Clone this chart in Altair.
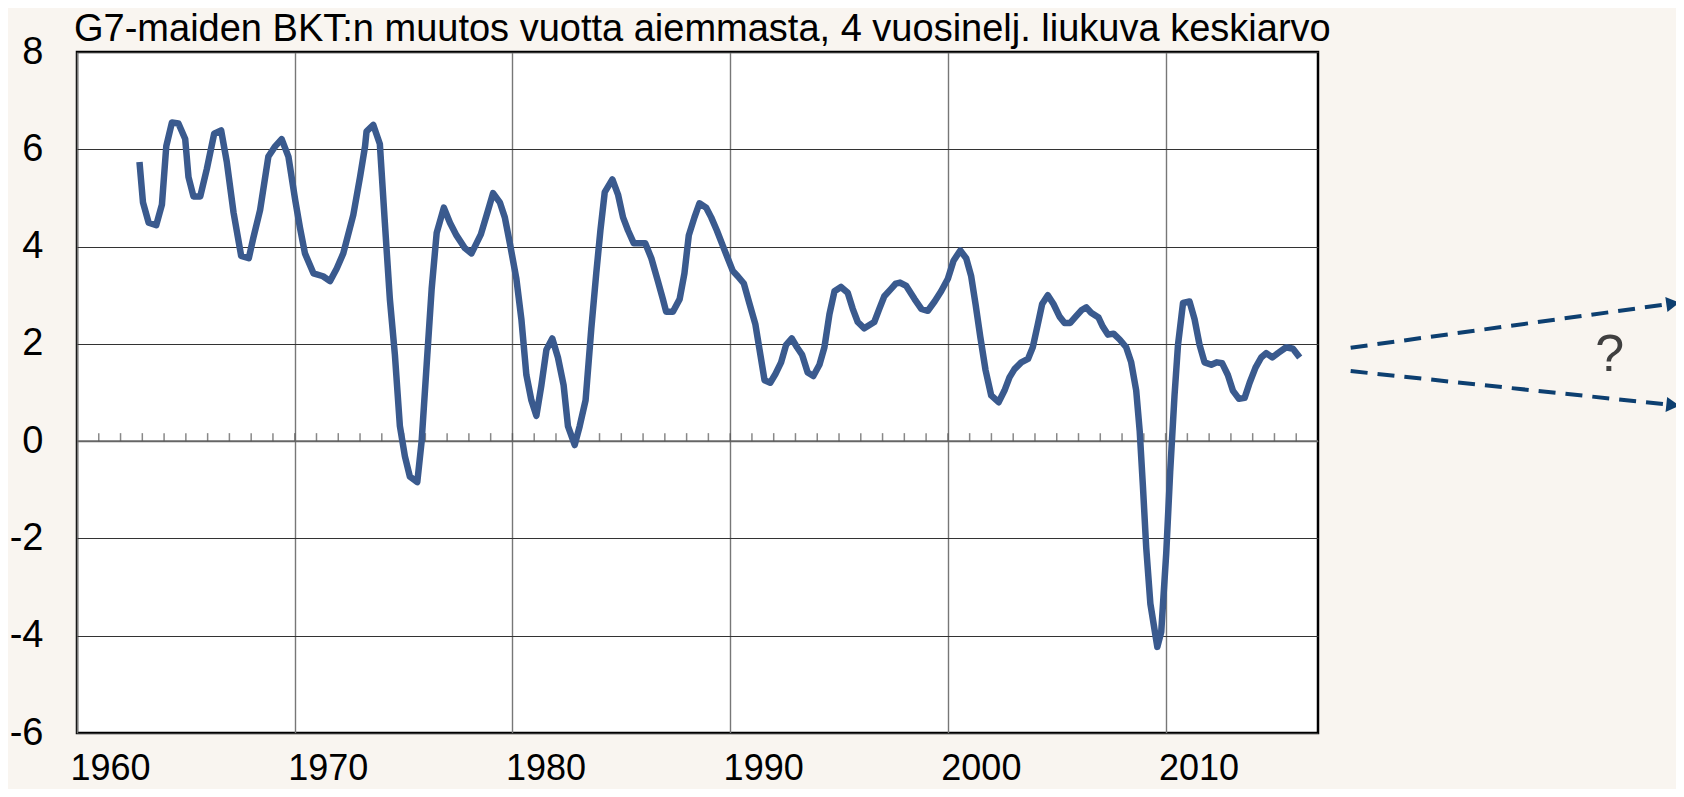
import altair as alt
import pandas as pd

# ---- data ----
years = [
    1962.87, 1963.03, 1963.29, 1963.64, 1963.90, 1964.10, 1964.36, 1964.66, 1964.97, 1965.12,
    1965.35, 1965.66, 1965.96, 1966.30, 1966.62, 1966.88, 1967.19, 1967.54, 1967.89, 1968.10,
    1968.41, 1968.79, 1969.10, 1969.40, 1969.71, 1970.02, 1970.24, 1970.47, 1970.86, 1971.30,
    1971.62, 1971.93, 1972.23, 1972.69, 1973.00, 1973.23, 1973.30, 1973.61, 1973.91, 1974.14,
    1974.37, 1974.60, 1974.83, 1975.06, 1975.29, 1975.63, 1975.83, 1976.06, 1976.29, 1976.52,
    1976.85, 1977.13, 1977.43, 1977.81, 1978.12, 1978.55, 1978.85, 1979.11, 1979.42, 1979.65,
    1979.88, 1980.18, 1980.41, 1980.64, 1980.87, 1981.10, 1981.33, 1981.56, 1981.83, 1982.09,
    1982.35, 1982.55, 1982.86, 1983.09, 1983.36, 1983.62, 1983.85, 1984.04, 1984.24, 1984.59,
    1984.85, 1985.08, 1985.31, 1985.57, 1985.84, 1986.10, 1986.38, 1986.68, 1986.91, 1987.06,
    1987.37, 1987.68, 1987.90, 1988.10, 1988.36, 1988.59, 1988.90, 1989.13, 1989.39, 1989.66,
    1989.89, 1990.12, 1990.35, 1990.63, 1990.89, 1991.16, 1991.35, 1991.58, 1991.84, 1992.08,
    1992.34, 1992.57, 1992.83, 1993.07, 1993.30, 1993.56, 1993.82, 1994.10, 1994.33, 1994.56,
    1994.79, 1995.09, 1995.40, 1995.63, 1995.86, 1996.16, 1996.62, 1996.85, 1997.08, 1997.39,
    1997.61, 1997.80, 1998.09, 1998.47, 1998.78, 1999.08, 1999.39, 1999.69, 2000.00, 2000.26,
    2000.57, 2000.84, 2001.07, 2001.27, 2001.49, 2001.73, 2001.99, 2002.33, 2002.60, 2002.83,
    2003.06, 2003.37, 2003.68, 2003.90, 2004.13, 2004.33, 2004.59, 2004.85, 2005.13, 2005.36,
    2005.62, 2005.87, 2006.13, 2006.36, 2006.58, 2006.92, 2007.12, 2007.35, 2007.61, 2007.89,
    2008.19, 2008.42, 2008.65, 2008.81, 2008.96, 2009.11, 2009.30, 2009.62, 2009.80, 2010.03,
    2010.21, 2010.41, 2010.57, 2010.80, 2011.10, 2011.33, 2011.56, 2011.79, 2012.10, 2012.36,
    2012.60, 2012.86, 2013.09, 2013.37, 2013.63, 2013.86, 2014.13, 2014.39, 2014.62, 2014.90,
    2015.16, 2015.54, 2015.85, 2016.16,
]
values = [
    5.74, 4.91, 4.49, 4.44, 4.86, 6.06, 6.55, 6.53, 6.21, 5.43,
    5.03, 5.03, 5.59, 6.32, 6.39, 5.74, 4.70, 3.81, 3.76, 4.18,
    4.75, 5.85, 6.06, 6.21, 5.85, 4.96, 4.39, 3.86, 3.45, 3.39,
    3.29, 3.55, 3.86, 4.65, 5.43, 6.06, 6.37, 6.50, 6.11, 4.49,
    2.92, 1.78, 0.31, -0.31, -0.73, -0.84, 0.00, 1.57, 3.13, 4.28,
    4.80, 4.49, 4.23, 3.97, 3.86, 4.25, 4.70, 5.10, 4.91, 4.60,
    4.07, 3.34, 2.51, 1.36, 0.84, 0.52, 1.15, 1.88, 2.11, 1.72,
    1.15, 0.31, -0.08, 0.31, 0.84, 2.30, 3.45, 4.33, 5.12, 5.38,
    5.07, 4.60, 4.33, 4.07, 4.07, 4.07, 3.76, 3.29, 2.92, 2.66,
    2.66, 2.92, 3.45, 4.23, 4.60, 4.89, 4.80, 4.60, 4.33, 4.02,
    3.76, 3.50, 3.39, 3.24, 2.82, 2.40, 1.88, 1.25, 1.20, 1.38,
    1.62, 1.98, 2.11, 1.93, 1.78, 1.41, 1.34, 1.57, 1.93, 2.61,
    3.08, 3.17, 3.05, 2.72, 2.45, 2.32, 2.45, 2.72, 2.98, 3.13,
    3.24, 3.26, 3.19, 2.92, 2.72, 2.68, 2.87, 3.08, 3.34, 3.71,
    3.92, 3.76, 3.39, 2.82, 2.14, 1.46, 0.94, 0.80, 1.04, 1.31,
    1.48, 1.62, 1.69, 1.93, 2.40, 2.82, 3.00, 2.82, 2.56, 2.43,
    2.43, 2.56, 2.69, 2.75, 2.64, 2.54, 2.35, 2.19, 2.21, 2.09,
    1.93, 1.62, 1.04, 0.21, -0.94, -2.19, -3.34, -4.23, -3.92, -2.30,
    -0.63, 0.94, 1.98, 2.84, 2.87, 2.51, 1.98, 1.62, 1.57, 1.62,
    1.60, 1.36, 1.04, 0.87, 0.89, 1.20, 1.51, 1.72, 1.81, 1.72,
    1.81, 1.93, 1.90, 1.72,
]

y_tick_values = [-6, -4, -2, 0, 2, 4, 6, 8]
x_label_years = [1960, 1970, 1980, 1990, 2000, 2010]
minor_tick_years = list(range(1961, 2017))

# scenario arrows ("?") to the right of the plot
arrow_x_start = [2018.5, 2018.5]
arrow_x_end = [2033.3, 2033.3]
arrow_y_start = [1.92, 1.44]
arrow_y_end = [2.83, 0.74]
arrow_angle = [352, 6]
question_x = [2030.4]
question_y = [1.78]

title_text = "G7-maiden BKT:n muutos vuotta aiemmasta, 4 vuosinelj. liukuva keskiarvo"

FONT = "Liberation Sans"

xscale = alt.Scale(domain=[1960, 2017], nice=False, zero=False)
yscale = alt.Scale(domain=[-6, 8], nice=False, zero=False)

series = pd.DataFrame({"year": years, "value": values})
ticks_df = pd.DataFrame({"year": minor_tick_years, "zero": [0] * len(minor_tick_years)})
zero_df = pd.DataFrame({"zero": [0]})
arrows = pd.DataFrame({
    "x": arrow_x_start, "x2": arrow_x_end,
    "y": arrow_y_start, "y2": arrow_y_end, "angle": arrow_angle,
})
qdf = pd.DataFrame({"x": question_x, "y": question_y, "t": ["?"]})

x_axis = alt.Axis(
    values=x_label_years, format="d", grid=True, gridColor="#777777", gridWidth=1.4,
    ticks=False, tickSize=0, domain=False, labelFontSize=36, labelFont=FONT,
    labelColor="#000000", labelOffset=33, labelPadding=18.5, labelFlush=False,
    labelOverlap=False, title=None,
)
y_axis = alt.Axis(
    values=y_tick_values, grid=True, gridColor="#333333", gridWidth=1.2,
    ticks=False, tickSize=0, domain=False, labelFontSize=38, labelFont=FONT,
    labelColor="#000000", labelPadding=34, labelOverlap=False, title=None,
    labelExpr="datum.value + ''",
)

X = lambda f: alt.X(f, scale=xscale, axis=x_axis)
Y = lambda f: alt.Y(f, scale=yscale, axis=y_axis)

zero_line = alt.Chart(zero_df).mark_rule(color="#666666", strokeWidth=2).encode(
    y=Y("zero:Q")
)

minor_ticks = alt.Chart(ticks_df).mark_tick(
    orient="vertical", size=8, thickness=1.5, color="#555555", yOffset=-4
).encode(
    x=X("year:Q"),
    y=Y("zero:Q"),
)

line = alt.Chart(series).mark_line(
    color="#3a5a8e", strokeWidth=6.5, strokeJoin="round"
).encode(
    x=X("year:Q"),
    y=Y("value:Q"),
)

arrow_lines = alt.Chart(arrows).mark_rule(
    color="#0d3f70", strokeWidth=4, strokeDash=[17, 10]
).encode(
    x=X("x:Q"),
    x2="x2:Q",
    y=Y("y:Q"),
    y2="y2:Q",
)

arrow_heads = alt.Chart(arrows).mark_point(
    shape="triangle-right", filled=True, color="#0d3f70", size=230, opacity=1
).encode(
    x=X("x2:Q"),
    y=Y("y2:Q"),
    angle=alt.Angle("angle:Q", scale=None),
)

question = alt.Chart(qdf).mark_text(
    fontSize=52, font=FONT, color="#404040", align="center", baseline="middle"
).encode(
    x=X("x:Q"),
    y=Y("y:Q"),
    text="t:N",
)

chart = alt.layer(
    zero_line, minor_ticks, line, arrow_lines, arrow_heads, question
).properties(
    width=1241,
    height=681,
    padding={"left": 69, "top": 44, "right": 358, "bottom": 56},
    autosize=alt.AutoSizeParams(type="none"),
    background="#f9f5f0",
    title=alt.TitleParams(
        title_text, anchor="start", fontSize=38, font=FONT, fontWeight="normal",
        color="#000000", baseline="alphabetic", offset=-46, dx=-3, frame="group",
    ),
).configure_view(
    stroke="#000000", strokeWidth=2.5, fill="#ffffff"
)

chart.save("out.html", embed_options={"renderer": "svg", "actions": False})
